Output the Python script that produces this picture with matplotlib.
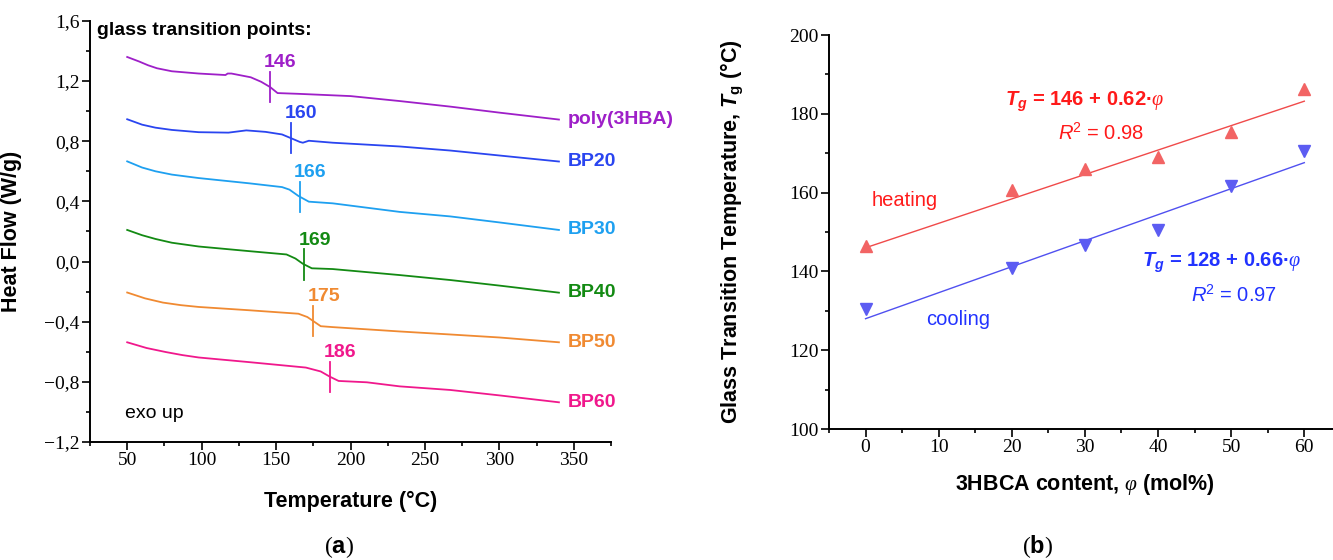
import numpy as np
import matplotlib
matplotlib.use("Agg")
import matplotlib.pyplot as plt
from matplotlib import font_manager
from matplotlib.ticker import MultipleLocator, FuncFormatter

# fonts
names = {f.name for f in font_manager.fontManager.ttflist}
narrow = "Liberation Sans Narrow" if "Liberation Sans Narrow" in names else "Liberation Sans"
plt.rcParams["font.family"] = ["Liberation Sans", "DejaVu Sans"]
plt.rcParams["mathtext.fontset"] = "custom"
plt.rcParams["mathtext.rm"] = narrow
plt.rcParams["mathtext.it"] = "Liberation Serif:italic"
plt.rcParams["mathtext.sf"] = narrow + ":italic"
plt.rcParams["mathtext.bf"] = narrow + ":bold"
plt.rcParams["mathtext.bfit"] = narrow + ":italic:bold"

# ---- panel (a): DSC curves ----
samples = ["poly(3HBA)", "BP20", "BP30", "BP40", "BP50", "BP60"]
tg = [146, 160, 166, 169, 175, 186]
colors = ["#9e1fc8", "#2a45f0", "#1ea0f0", "#138a13", "#f08a32", "#f0188c"]

temp_p = [50, 58, 64, 70, 80, 98, 116, 117.5, 120, 133, 140, 146, 151, 165, 200, 233, 267, 300, 340]
hf_p = [1.36, 1.33, 1.305, 1.285, 1.265, 1.25, 1.24, 1.25, 1.25, 1.225, 1.195, 1.16, 1.12, 1.115, 1.10, 1.067, 1.03, 0.99, 0.944]
temp_20 = [50, 60, 69, 80, 98, 118, 130, 143, 154, 161, 166, 168, 172, 188, 233, 267, 300, 340]
hf_20 = [0.946, 0.91, 0.89, 0.875, 0.86, 0.857, 0.872, 0.862, 0.845, 0.816, 0.795, 0.79, 0.803, 0.79, 0.765, 0.738, 0.705, 0.665]
temp_30 = [50, 60, 69, 80, 98, 132, 154, 159, 165, 172, 188, 233, 267, 300, 340]
hf_30 = [0.666, 0.625, 0.60, 0.578, 0.555, 0.52, 0.495, 0.478, 0.436, 0.398, 0.387, 0.33, 0.30, 0.26, 0.21]
temp_40 = [50, 60, 69, 80, 98, 132, 157, 163, 168, 174, 188, 233, 267, 300, 340]
hf_40 = [0.21, 0.175, 0.15, 0.125, 0.10, 0.069, 0.047, 0.02, -0.015, -0.045, -0.05, -0.09, -0.123, -0.16, -0.207]
temp_50 = [50, 62, 74, 86, 98, 132, 165, 171, 175, 180, 188, 233, 267, 300, 340]
hf_50 = [-0.206, -0.245, -0.273, -0.29, -0.302, -0.324, -0.347, -0.369, -0.396, -0.43, -0.436, -0.465, -0.485, -0.505, -0.537]
temp_60 = [50, 63, 76, 87, 98, 132, 170, 180, 186, 192, 211, 233, 267, 300, 340]
hf_60 = [-0.537, -0.575, -0.602, -0.622, -0.638, -0.669, -0.705, -0.731, -0.765, -0.794, -0.803, -0.83, -0.854, -0.89, -0.936]
temps = [temp_p, temp_20, temp_30, temp_40, temp_50, temp_60]
flows = [hf_p, hf_20, hf_30, hf_40, hf_50, hf_60]

# ---- panel (b): Tg vs composition ----
content = [0, 20, 30, 40, 50, 60]
tg_heat = [146.4, 160.6, 165.9, 169.1, 175.4, 186.3]
tg_cool = [130.5, 140.8, 146.8, 150.4, 161.7, 170.5]
fit_heat = [146, 0.62]
fit_cool = [128, 0.66]

fig = plt.figure(figsize=(13.33, 5.6), dpi=100)
ax1 = fig.add_axes([0.0675, 0.2107, 0.3909, 0.752])
ax2 = fig.add_axes([0.6219, 0.2339, 0.384, 0.7036])

def style(ax):
    for s in ["top", "right"]:
        ax.spines[s].set_visible(False)
    for s in ["left", "bottom"]:
        ax.spines[s].set_linewidth(1.4)
    ax.tick_params(which="major", direction="out", length=5.5, width=1.2,
                   labelsize=14, pad=2)
    ax.tick_params(which="minor", direction="out", length=3, width=1.2)
    for lab in ax.get_xticklabels() + ax.get_yticklabels():
        lab.set_fontfamily("Liberation Serif")

for t, h, c, name, g in zip(temps, flows, colors, samples, tg):
    ax1.plot(t, h, color=c, lw=1.3)
    yg = np.interp(g, t, h)
    ax1.plot([g, g], [yg - 0.1, yg + 0.1], color=c, lw=1.3)
    ax1.text(g - 4, yg + 0.105, str(g), color=c, fontsize=14, fontweight="bold",
             ha="left", va="bottom")
    ax1.text(346, h[-1], name, color=c, fontsize=14, fontweight="bold",
             ha="left", va="center")

ax1.text(30, 1.505, "glass transition points:", fontsize=14, fontweight="bold",
         ha="left", va="baseline")
ax1.text(48.5, -1.01, "exo up", fontsize=14, ha="left", va="center")

ax1.set_xlim(25, 375)
ax1.set_ylim(-1.2, 1.6)
ax1.xaxis.set_major_locator(MultipleLocator(50))
ax1.xaxis.set_minor_locator(MultipleLocator(25))
ax1.yaxis.set_major_locator(MultipleLocator(0.4))
ax1.yaxis.set_minor_locator(MultipleLocator(0.2))
ax1.yaxis.set_major_formatter(FuncFormatter(
    lambda v, p: f"{v:.1f}".replace(".", ",").replace("-", "\u2212")))
ax1.set_xticks([50, 100, 150, 200, 250, 300, 350])
ax1.set_xlabel("Temperature (°C)", fontsize=15.5, fontweight="bold")
ax1.set_ylabel("Heat Flow (W/g)", fontsize=15.5, fontweight="bold")
ax1.xaxis.set_label_coords(0.5, -0.115)
ax1.yaxis.set_label_coords(-0.13, 0.5)
style(ax1)

red_m, red_l, red_t = "#f26464", "#f04a4a", "#ff1a1a"
blue_m, blue_l, blue_t = "#5c5cf2", "#5050f0", "#2233ff"
xs = np.array([content[0], content[-1]])
ax2.plot(xs, fit_heat[0] + fit_heat[1] * xs, color=red_l, lw=1)
ax2.plot(xs, fit_cool[0] + fit_cool[1] * xs, color=blue_l, lw=1)
ax2.plot(content, tg_heat, "^", color=red_m, ms=9, ls="none")
ax2.plot(content, tg_cool, "v", color=blue_m, ms=9, ls="none")

ax2.text(30, 183.0, r"$\mathbfit{T_g}$ = 146 + 0.62·$\varphi$", color=red_t,
         fontsize=14.5, fontweight="bold", family=narrow, ha="center", va="center")
ax2.text(32.2, 175.0, r"$\mathsf{R}^2$ = 0.98", color=red_t, fontsize=14.5,
         family=narrow, ha="center", va="center")
ax2.text(5.3, 157.9, "heating", color=red_t, fontsize=14.5, family=narrow,
         ha="center", va="center")
ax2.text(48.7, 142.2, r"$\mathbfit{T_g}$ = 128 + 0.66·$\varphi$", color=blue_t,
         fontsize=14.5, fontweight="bold", family=narrow, ha="center", va="center")
ax2.text(50.4, 134.0, r"$\mathsf{R}^2$ = 0.97", color=blue_t, fontsize=14.5,
         family=narrow, ha="center", va="center")
ax2.text(12.65, 127.9, "cooling", color=blue_t, fontsize=14.5, family=narrow,
         ha="center", va="center")

ax2.set_xlim(-5, 65)
ax2.set_ylim(100, 200)
ax2.xaxis.set_major_locator(MultipleLocator(10))
ax2.xaxis.set_minor_locator(MultipleLocator(5))
ax2.yaxis.set_major_locator(MultipleLocator(20))
ax2.yaxis.set_minor_locator(MultipleLocator(10))
ax2.set_xticks([0, 10, 20, 30, 40, 50, 60])
ax2.set_xlabel(r"3HBCA content, $\varphi$ (mol%)", fontsize=15.5, fontweight="bold")
ax2.set_ylabel(r"Glass Transition Temperature, $\mathbfit{T}_\mathbf{g}$ (°C)",
               fontsize=15.5, fontweight="bold")
ax2.xaxis.set_label_coords(0.5, -0.11)
ax2.yaxis.set_label_coords(-0.164, 0.5)
style(ax2)

fig.text(339 / 1333, 1 - 547 / 560, r"($\mathbf{a}$)", fontsize=17,
         family="Liberation Serif", ha="center", va="center")
fig.text(1038 / 1333, 1 - 547 / 560, r"($\mathbf{b}$)", fontsize=17,
         family="Liberation Serif", ha="center", va="center")

fig.savefig("out.png", dpi=100)
